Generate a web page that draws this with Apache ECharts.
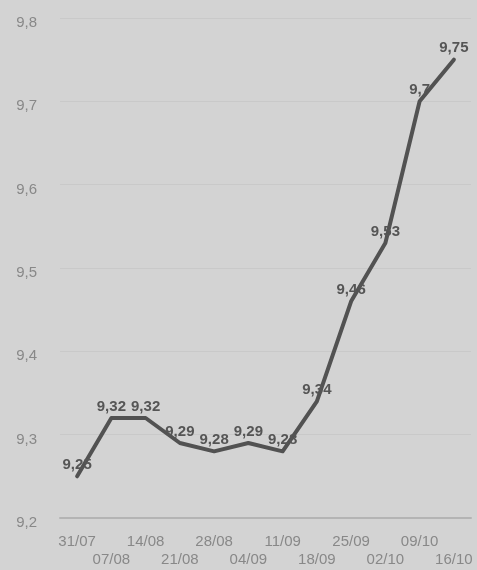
<!DOCTYPE html>
<html><head><meta charset="utf-8">
<script src="https://cdn.jsdelivr.net/npm/echarts@6/dist/echarts.min.js"></script>
<style>html,body{margin:0;padding:0;background:#d3d3d3;}#c{width:477px;height:570px;}</style>
</head><body><div id="c"></div>
<script>
var categories = ['31/07','07/08','14/08','21/08','28/08','04/09','11/09','18/09','25/09','02/10','09/10','16/10'];
var values = [9.25, 9.32, 9.32, 9.29, 9.28, 9.29, 9.28, 9.34, 9.46, 9.53, 9.7, 9.75];
var yMin = 9.2, yMax = 9.8, yStep = 0.1;

var chart = echarts.init(document.getElementById('c'));
function comma(v){ return String(Math.round(v*100)/100).replace('.', ','); }
chart.setOption({
  backgroundColor: '#d3d3d3',
  animation: false,
  grid: {left: 60, right: 6, top: 18, bottom: 52},
  xAxis: {
    type: 'category', data: categories, boundaryGap: true,
    axisLine: {show: true, lineStyle: {color: '#b4b4b4', width: 2}},
    axisTick: {show: false},
    axisLabel: {
      interval: 0, color: '#888888', fontSize: 15, fontFamily: 'Liberation Sans, Arial', lineHeight: 18, margin: 15,
      formatter: function(v, i){ return i % 2 === 1 ? '\n' + v : v; }
    },
    splitLine: {show: false}
  },
  yAxis: {
    type: 'value', min: yMin, max: yMax, interval: yStep,
    axisLine: {show: false}, axisTick: {show: false},
    axisLabel: {color: '#888888', fontSize: 15, fontFamily: 'Liberation Sans, Arial', margin: 23,
      verticalAlign: 'top', lineHeight: 10,
      formatter: function(v){ return v.toFixed(1).replace('.', ','); }},
    splitLine: {show: true, lineStyle: {color: '#c9c9c9', width: 1}}
  },
  series: [{
    type: 'line', data: values, symbol: 'circle', symbolSize: 2, showSymbol: true,
    itemStyle: {color: '#525252'},
    lineStyle: {color: '#525252', width: 4, cap: 'round', join: 'round'},
    label: {show: true, position: 'top', distance: 3, color: '#555555', fontSize: 15, fontWeight: 'bold',
      fontFamily: 'Liberation Sans, Arial',
      formatter: function(p){ return comma(p.value); }},
    labelLayout: {hideOverlap: false}
  }]
});
</script></body></html>
